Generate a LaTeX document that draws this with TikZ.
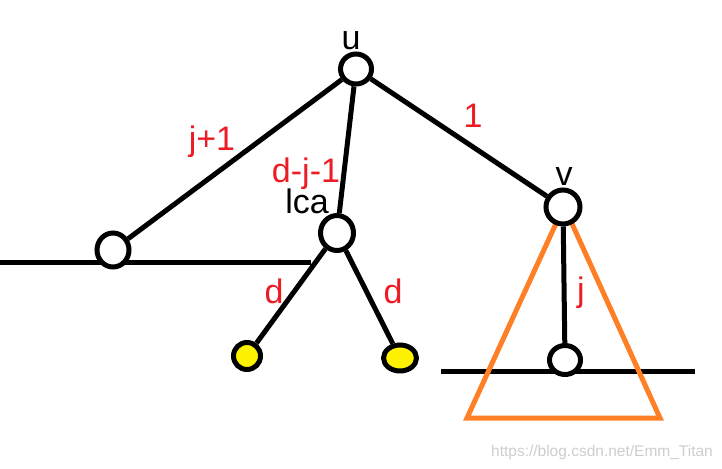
\documentclass[tikz,border=0pt]{standalone}
\usepackage{fontspec}
\usetikzlibrary{shapes.geometric}
\setmainfont{Liberation Sans}
\definecolor{pred}{RGB}{237,28,36}
\definecolor{porange}{RGB}{255,127,39}
\definecolor{pyellow}{RGB}{255,242,0}
\definecolor{wgray}{RGB}{205,205,205}
\begin{document}
\begin{tikzpicture}[x=1pt,y=-1pt,
  vert/.style={ellipse,draw=black,line width=5pt,fill=white,inner sep=0pt},
  leaf/.style={vert,fill=pyellow},
  edge/.style={draw=black,line width=5pt},
  blab/.style={font=\fontsize{34}{34}\selectfont,text=black,inner sep=0pt,anchor=base},
  rlab/.style={font=\fontsize{34}{34}\selectfont,text=pred,inner sep=0pt,anchor=base}]
\useasboundingbox (0,0) rectangle (722,468);
% horizontal lines
\coordinate (hl1) at (0,262);
\coordinate (hl2) at (311,262);
\coordinate (hr1) at (441,371);
\coordinate (hr2) at (695,371);
\draw[edge] (hl1) -- (hl2);
\draw[edge] (hr1) -- (hr2);
% triangle
\coordinate (ta) at (564,206);
\coordinate (tb) at (467,418);
\coordinate (tc) at (660,418);
\draw[draw=porange,line width=5pt,line join=miter] (ta) -- (tb) -- (tc) -- cycle;
% nodes
\node[vert,minimum width=31pt,minimum height=30pt] (u) at (356,69) {};
\node[vert,minimum width=33pt,minimum height=35pt] (lca) at (337,233) {};
\node[vert,minimum width=32pt,minimum height=34pt] (w) at (113,250) {};
\node[vert,minimum width=34pt,minimum height=34pt] (v) at (563,207) {};
\node[vert,minimum width=31pt,minimum height=29pt] (b) at (565,360) {};
\node[leaf,minimum width=27pt,minimum height=27pt] (y1) at (247,356) {};
\node[leaf,minimum width=33pt,minimum height=26pt] (y2) at (400,358) {};
% edges
\draw[edge] (u) -- (w);
\draw[edge] (u) -- (lca);
\draw[edge] (u) -- (v);
\draw[edge] (lca) -- (y1);
\draw[edge] (lca) -- (y2);
\draw[edge] (v) -- (b);
% labels
\node[blab] (lu) at (351,50) {u};
\node[blab] (llca) at (307,213) {lca};
\node[blab] (lv) at (564,185) {v};
\node[rlab] (e1) at (212,150) {j+1};
\node[rlab] (e2) at (306,182) {d-j-1};
\node[rlab] (e3) at (473,128) {1};
\node[rlab] (e4) at (274,303) {d};
\node[rlab] (e5) at (393,303) {d};
\node[rlab] (e6) at (581,301) {j};
\node[font=\fontsize{15.5}{15.5}\selectfont,text=wgray,inner sep=0pt,anchor=base] (wm) at (602,456) {https://blog.csdn.net/Emm\_Titan};
\end{tikzpicture}
\end{document}
